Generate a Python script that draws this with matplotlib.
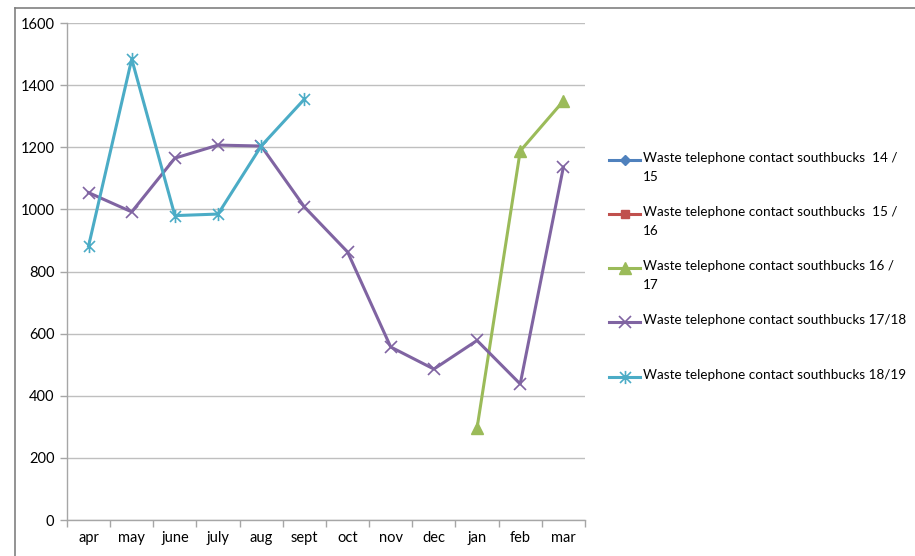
import numpy as np
import matplotlib
matplotlib.use("Agg")
import matplotlib.pyplot as plt
from matplotlib.lines import Line2D
from matplotlib.path import Path

plt.rcParams['font.family'] = ['Lato', 'DejaVu Sans']

months = ["apr", "may", "june", "july", "aug", "sept", "oct", "nov", "dec", "jan", "feb", "mar"]

labels = [
    "Waste telephone contact southbucks  14 /\n15",
    "Waste telephone contact southbucks  15 /\n16",
    "Waste telephone contact southbucks 16 /\n17",
    "Waste telephone contact southbucks 17/18",
    "Waste telephone contact southbucks 18/19",
]

s1415 = [np.nan] * 12
s1516 = [np.nan] * 12
s1617 = [np.nan] * 9 + [296, 1188, 1349]
s1718 = [1054, 992, 1165, 1207, 1204, 1008, 863, 557, 486, 578, 438, 1136]
s1819 = [882, 1484, 980, 985, 1204, 1355] + [np.nan] * 6

# Excel-style star marker: an "x" with a vertical stroke through it
star = Path([(-1, -1), (1, 1), (-1, 1), (1, -1), (0, -1.2), (0, 1.2)],
            [Path.MOVETO, Path.LINETO, Path.MOVETO, Path.LINETO, Path.MOVETO, Path.LINETO])

styles = [
    dict(color="#4F81BD", marker="D", markersize=5),
    dict(color="#C0504D", marker="s", markersize=6),
    dict(color="#9BBB59", marker="^", markersize=8.5),
    dict(color="#8064A2", marker="x", markersize=9, markeredgewidth=1.2),
    dict(color="#4BACC6", marker=star, markersize=9.5, markeredgewidth=1.2),
]
series = [s1415, s1516, s1617, s1718, s1819]

fig = plt.figure(figsize=(9.15, 5.56), dpi=100)
ax = fig.add_axes([0.0732, 0.0647, 0.5661, 0.8939])

x = np.arange(len(months))
for vals, st in zip(series, styles):
    ax.plot(x, vals, linewidth=2.2, **st)

ax.set_xlim(-0.5, len(months) - 0.5)
ax.set_ylim(0, 1600)
ax.set_yticks(np.arange(0, 1601, 200))
ax.set_xticks(x)
ax.set_xticklabels(months)
ax.set_xticks(np.arange(-0.5, len(months), 1.0), minor=True)
ax.tick_params(axis="x", which="major", length=0, pad=8, labelsize=10.5, colors="#000000")
ax.tick_params(axis="x", which="minor", length=5, color="#A6A6A6", width=1)
ax.tick_params(axis="y", length=5, color="#A6A6A6", width=1, pad=4, labelsize=10.5)
ax.grid(axis="y", color="#BFBFBF", linewidth=1)
ax.set_axisbelow(True)
for side in ("top", "right"):
    ax.spines[side].set_visible(False)
for side in ("left", "bottom"):
    ax.spines[side].set_color("#A6A6A6")
    ax.spines[side].set_linewidth(1)

# Legend drawn beside the plot area
W, H = 915.0, 556.0
entry_y = [160, 214, 268, 322, 377]
for y, st, lab in zip(entry_y, styles, labels):
    fy = 1 - y / H
    fig.add_artist(Line2D([609 / W, 640 / W], [fy, fy], linewidth=2.2,
                          transform=fig.transFigure, color=st["color"]))
    fig.add_artist(Line2D([624.5 / W], [fy], linestyle="none",
                          transform=fig.transFigure, **st))
    fig.text(643 / W, fy + 8 / H, lab, ha="left", va="top", fontsize=9.7,
             linespacing=1.7)

# Outer frame lines
fig.add_artist(Line2D([15.5 / W, 1.0], [1 - 7.5 / H, 1 - 7.5 / H], color="#808080",
                      linewidth=1.2, transform=fig.transFigure))
fig.add_artist(Line2D([15.5 / W, 15.5 / W], [0, 1 - 7.5 / H], color="#808080",
                      linewidth=1.2, transform=fig.transFigure))

fig.savefig("out.png", dpi=100)
